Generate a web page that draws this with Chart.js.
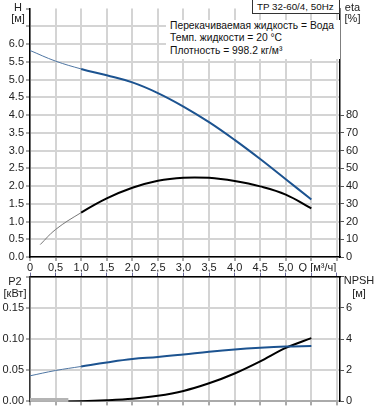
<!DOCTYPE html>
<html>
<head>
<meta charset="utf-8">
<script src="https://cdn.jsdelivr.net/npm/chart.js@4.4.0/dist/chart.umd.min.js"></script>
<style>
body { margin: 0; background: #fff; width: 378px; height: 410px; overflow: hidden; position: relative;
       font-family: "Liberation Sans", Arial, sans-serif; }
#topBox { position: absolute; left: 0; top: 0; width: 378px; height: 272px; }
#botBox { position: absolute; left: 0; top: 268px; width: 378px; height: 142px; }
.lbl { position: absolute; font-size: 11px; line-height: 12px; color: #222; text-align: center; white-space: nowrap; }
#info { position: absolute; left: 166px; top: 20px; width: 170px; padding: 0 0 2px 4px; background: #fff;
        font-size: 10.3px; line-height: 12.3px; color: #111; white-space: nowrap; }
#title { position: absolute; left: 252px; top: 0; width: 82px; height: 13px; padding-left: 4px; border: 1px solid #333;
         border-top: none; background: #fff; font-size: 9.8px; line-height: 14px; color: #111; white-space: nowrap; }
</style>
</head>
<body>
<div id="topBox"><canvas id="pumpTop"></canvas></div>
<div id="botBox"><canvas id="pumpBottom"></canvas></div>

<div class="lbl" style="left:6px;top:1px;width:24px;">H</div>
<div class="lbl" style="left:6px;top:12px;width:24px;">[м]</div>
<div class="lbl" style="left:340px;top:1px;width:25px;">eta</div>
<div class="lbl" style="left:340px;top:12px;width:25px;">[%]</div>
<div class="lbl" style="left:2px;top:275px;width:26px;">P2</div>
<div class="lbl" style="left:0px;top:287px;width:30px;">[кВт]</div>
<div class="lbl" style="left:342px;top:274px;width:34px;">NPSH</div>
<div class="lbl" style="left:342px;top:287px;width:34px;">[м]</div>

<div id="title">TP 32-60/4, 50Hz</div>
<div id="info">
  Перекачиваемая жидкость = Вода<br>
  Темп. жидкости = 20 °C<br>
  Плотность = 998.2 кг/м³
</div>

<script>
// Q [m3/h] points
const flowQ = [0, 0.5, 1.0, 1.5, 2.0, 2.5, 3.0, 3.5, 4.0, 4.5, 5.0, 5.5];
const headH = [5.82, 5.52, 5.30, 5.12, 4.92, 4.62, 4.24, 3.80, 3.30, 2.76, 2.19, 1.62];

const effQ = [0.2, 0.5, 1.0, 1.5, 2.0, 2.5, 3.0, 3.5, 4.0, 4.5, 5.0, 5.5];
const effEta = [7, 15.5, 25, 33, 39, 43, 44.7, 44.6, 42.8, 39.8, 35.2, 27.4];

const powerP2 = [0.041, 0.0495, 0.056, 0.0625, 0.068, 0.0712, 0.0752, 0.0795, 0.0831, 0.0858, 0.0878, 0.0889];

const npshQ = [0, 0.75, 1.0, 1.5, 2.0, 2.5, 3.0, 3.5, 4.0, 4.5, 5.0, 5.5];
const npshM = [0, 0, 0.01, 0.07, 0.17, 0.36, 0.67, 1.16, 1.79, 2.57, 3.43, 4.06];

const xTicks = [0, 0.5, 1.0, 1.5, 2.0, 2.5, 3.0, 3.5, 4.0, 4.5, 5.0, 5.5, 6.0];

Chart.defaults.font.family = '"Liberation Sans", Arial, sans-serif';
Chart.defaults.font.size = 11;
Chart.defaults.color = '#222';
Chart.defaults.animation = false;

const blue = '#1c5390';
const gridCol = '#d4d4d4';

function pairs(xs, ys) {
    return xs.map((x, i) => ({ x: x, y: ys[i] }));
}

function qLabel(v) {
    if (v === 0) return '0';
    if (Math.abs(v - 5.5) < 1e-6) return '    Q [м³/ч]';
    if (v > 5.9) return '';
    return v.toFixed(1).replace('.', ',');
}

// thin, lighter part of the curve before a given Q
function thinWidth(limit, thin, thick) {
    return ctx => ctx.p0.parsed.x < limit - 1e-6 ? thin : thick;
}

const xBase = {
    type: 'linear', min: 0, max: 6.06,
    ticks: { stepSize: 0.5, includeBounds: false, autoSkip: false, maxRotation: 0, padding: 0 },
    grid: { color: gridCol, lineWidth: 2, tickLength: 4, tickColor: '#555', tickWidth: 1 },
    border: { color: '#000', width: 1.5 }
};

const topConfig = {
    type: 'line',
    data: {
        datasets: [
            {
                label: 'H',
                data: pairs(flowQ, headH),
                yAxisID: 'y',
                borderColor: blue,
                borderWidth: 2,
                pointRadius: 0,
                tension: 0.4,
                segment: {
                    borderWidth: thinWidth(1.0, 1, 2),
                    borderColor: ctx => ctx.p0.parsed.x < 0.999 ? '#4f76a3' : blue
                }
            },
            {
                label: 'eta',
                data: pairs(effQ, effEta),
                yAxisID: 'y2',
                borderColor: '#000',
                borderWidth: 2,
                pointRadius: 0,
                tension: 0.4,
                segment: {
                    borderWidth: thinWidth(1.0, 1, 2),
                    borderColor: ctx => ctx.p0.parsed.x < 0.999 ? '#777' : '#000'
                }
            }
        ]
    },
    options: {
        responsive: true,
        maintainAspectRatio: false,
        layout: { padding: { top: 1, left: 0, right: 0, bottom: 0 } },
        plugins: { legend: { display: false }, tooltip: { enabled: false } },
        scales: {
            x: Object.assign({}, xBase, {
                ticks: Object.assign({}, xBase.ticks, { callback: v => qLabel(v) }),
                afterBuildTicks: s => { s.ticks = xTicks.map(v => ({ value: v })); },
                afterFit: s => { s.height = 15; }
            }),
            y: {
                type: 'linear', position: 'left', min: 0, max: 7,
                ticks: { stepSize: 0.5, padding: 2, callback: v => v <= 6.01 ? v.toFixed(1) : '' },
                grid: {
                    color: c => (c.tick && c.tick.value >= 6.99) ? 'rgba(0,0,0,0)' : gridCol,
                    lineWidth: 2, tickLength: 4, tickColor: '#555', tickWidth: 1
                },
                border: { color: '#000', width: 1.5 },
                afterFit: s => { s.width = 30; }
            },
            y2: {
                type: 'linear', position: 'right', min: 0, max: 140,
                ticks: { stepSize: 10, padding: 2, callback: v => v <= 80 ? String(v) : '' },
                afterBuildTicks: s => { s.ticks = s.ticks.filter(t => t.value <= 80); },
                grid: { drawOnChartArea: false, tickLength: 4, tickColor: '#555' },
                border: { color: '#000', width: 1.5 },
                afterFit: s => { s.width = 38; }
            }
        }
    }
};

const bottomConfig = {
    type: 'line',
    data: {
        datasets: [
            {
                label: 'P2',
                data: pairs(flowQ, powerP2),
                yAxisID: 'y',
                borderColor: blue,
                borderWidth: 2,
                pointRadius: 0,
                tension: 0.4,
                segment: {
                    borderWidth: thinWidth(1.0, 1, 2),
                    borderColor: ctx => ctx.p0.parsed.x < 0.999 ? '#4f76a3' : blue
                }
            },
            {
                label: 'NPSH',
                data: pairs(npshQ, npshM),
                yAxisID: 'y2',
                borderColor: '#000',
                borderWidth: 2,
                pointRadius: 0,
                cubicInterpolationMode: 'monotone',
                segment: {
                    borderWidth: thinWidth(0.75, 7, 2),
                    borderColor: ctx => ctx.p0.parsed.x < 0.7 ? '#b4b4b4' : '#000'
                }
            }
        ]
    },
    options: {
        responsive: true,
        maintainAspectRatio: false,
        layout: { padding: 0 },
        plugins: { legend: { display: false }, tooltip: { enabled: false } },
        scales: {
            x: Object.assign({}, xBase, {
                ticks: Object.assign({}, xBase.ticks, { display: false }),
                border: { color: '#aaa', width: 2 },
                afterBuildTicks: s => { s.ticks = xTicks.map(v => ({ value: v })); },
                afterFit: s => { s.height = 8; }
            }),
            xt: {
                type: 'linear', position: 'top', min: 0, max: 6.06,
                ticks: { display: false, stepSize: 0.5, includeBounds: false },
                afterBuildTicks: s => { s.ticks = xTicks.map(v => ({ value: v })); },
                grid: { drawOnChartArea: false, tickLength: 4, tickColor: '#6a6a9a' },
                border: { color: '#000', width: 1.5 },
                afterFit: s => { s.height = 6; }
            },
            y: {
                type: 'linear', position: 'left', min: 0, max: 0.2,
                ticks: { stepSize: 0.05, padding: 2, callback: v => v < 0.19 ? v.toFixed(2) : '' },
                grid: { color: gridCol, lineWidth: 2, tickLength: 4, tickColor: '#555', tickWidth: 1 },
                border: { color: '#333', width: 1.5 },
                afterFit: s => { s.width = 30; }
            },
            y2: {
                type: 'linear', position: 'right', min: 0, max: 8,
                ticks: { stepSize: 2, padding: 2, callback: v => v < 7 ? String(v) : '' },
                grid: { drawOnChartArea: false, tickLength: 4, tickColor: '#555' },
                border: { color: '#000', width: 1.5 },
                afterFit: s => { s.width = 38; }
            }
        }
    }
};

new Chart(document.getElementById('pumpTop').getContext('2d'), topConfig);
new Chart(document.getElementById('pumpBottom').getContext('2d'), bottomConfig);
</script>
</body>
</html>
